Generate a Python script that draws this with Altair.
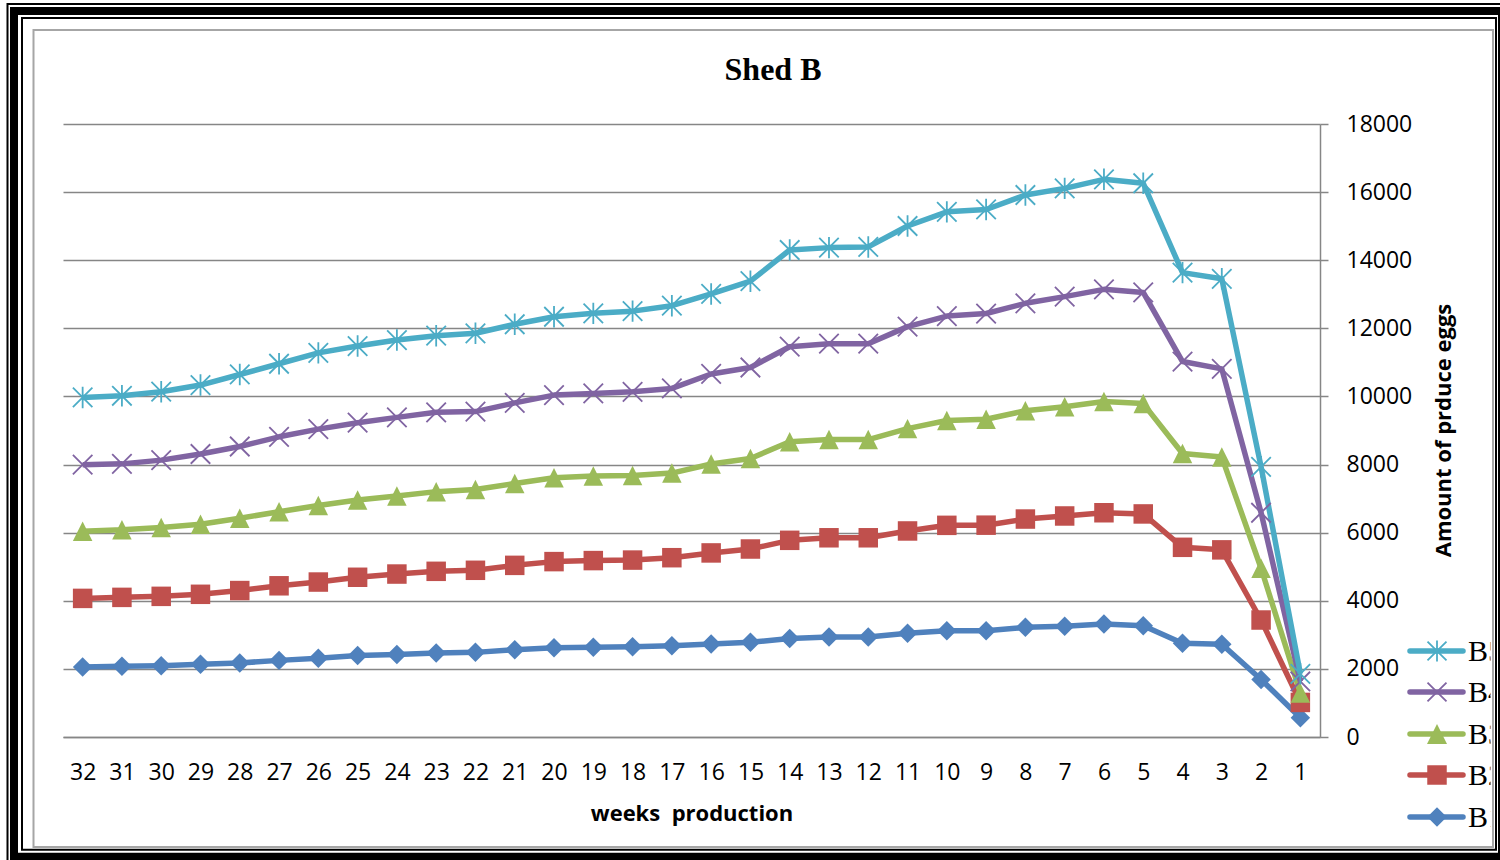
import altair as alt
import pandas as pd

# ---- data: weekly egg production per flock, weeks counted down 32 -> 1 ----
weeks = list(range(32, 0, -1))
series_names = ["B1", "B2", "B3", "B4", "B5"]

b1 = [2055, 2075, 2095, 2135, 2175, 2250, 2310, 2390, 2425, 2465, 2485, 2565,
      2620, 2635, 2650, 2680, 2730, 2780, 2895, 2935, 2935, 3045, 3120, 3120,
      3220, 3250, 3320, 3265, 2755, 2725, 1690, 565]
b2 = [2015, 2025, 2035, 2055, 2125, 2190, 2240, 2300, 2360, 2400, 2410, 2475,
      2530, 2545, 2545, 2585, 2675, 2740, 2880, 2915, 2915, 3005, 3095, 3100,
      3180, 3240, 3265, 3285, 2815, 2770, 1745, 450]
b3 = [1975, 1985, 2025, 2055, 2125, 2175, 2250, 2270, 2290, 2340, 2370, 2405,
      2460, 2485, 2485, 2485, 2610, 2660, 2895, 2885, 2885, 3005, 3080, 3110,
      3180, 3210, 3265, 3240, 2755, 2725, 1520, 280]
b4 = [1950, 1935, 1975, 2065, 2105, 2200, 2240, 2270, 2310, 2330, 2290, 2365,
      2430, 2425, 2455, 2485, 2645, 2670, 2790, 2815, 2815, 2995, 3065, 3105,
      3155, 3230, 3295, 3265, 2700, 2590, 1630, 335]
b5 = [1975, 2000, 2010, 2025, 2115, 2145, 2240, 2250, 2270, 2250, 2300, 2310,
      2300, 2350, 2370, 2430, 2350, 2535, 2840, 2820, 2840, 2955, 3060, 3055,
      3180, 3180, 3230, 3205, 2610, 2645, 1350, 225]

y_ticks = list(range(0, 18001, 2000))

# ---- styling ----
colors = ["#4F81BD", "#C0504D", "#9BBB59", "#8064A2", "#4BACC6"]
X_PATH = "M-1,-1L1,1M-1,1L1,-1"
STAR_PATH = "M-1,-1L1,1M-1,1L1,-1M0,-1.1L0,1.1"
TRI_PATH = "M0,-1L1,1L-1,1Z"
shapes = ["diamond", "square", TRI_PATH, X_PATH, STAR_PATH]
marker_sizes = [380, 380, 400, 360, 360]
filled_flags = [True, True, True, False, False]

LABEL_FONT = "Open Sans"
SERIF = "Liberation Serif"
GRID = "#868686"

rows = []
for order, (name, vals) in enumerate(zip(series_names, [b1, b2, b3, b4, b5])):
    for w, v in zip(weeks, vals):
        rows.append({"week": w, "series": name, "value": v, "order": order})
df = pd.DataFrame(rows)

W, H = 1257, 613  # plot area

color_scale = alt.Scale(domain=series_names, range=colors)
shape_scale = alt.Scale(domain=series_names, range=shapes)
size_scale = alt.Scale(domain=series_names, range=marker_sizes)

base = alt.Chart(df).transform_stack(
    stack="value",
    groupby=["week"],
    as_=["y0", "y1"],
    sort=[alt.SortField("order", order="ascending")],
)

x_enc = alt.X(
    "week:O",
    sort="descending",
    scale=alt.Scale(type="point", padding=0.5),
    axis=alt.Axis(
        title="weeks\u00a0\u00a0production",
        labelAngle=0,
        ticks=False,
        tickSize=0,
        domain=True,
        domainColor=GRID,
        domainWidth=1.5,
        grid=False,
        labelFont=LABEL_FONT,
        labelFontSize=23,
        labelColor="black",
        labelBaseline="middle",
        labelPadding=35,
        titleFont=LABEL_FONT,
        titleFontSize=22,
        titleFontWeight="bold",
        titleColor="black",
        titleBaseline="middle",
        titleY=76,
    ),
)

y_enc = alt.Y(
    "y1:Q",
    scale=alt.Scale(domain=[0, 18000], nice=False),
    axis=alt.Axis(
        orient="right",
        values=y_ticks,
        format="d",
        grid=True,
        gridColor=GRID,
        gridWidth=1.5,
        domainColor=GRID,
        domainWidth=1.5,
        tickColor=GRID,
        tickWidth=1.5,
        tickSize=8,
        labelFont=LABEL_FONT,
        labelFontSize=23,
        labelColor="black",
        labelPadding=18,
        title="Amount of prduce eggs",
        titleFont=LABEL_FONT,
        titleFontSize=22,
        titleFontWeight="bold",
        titleColor="black",
        titleAngle=270,
        titleAlign="center",
        titleBaseline="middle",
        titleX=123,
        titleY=306,
    ),
)

lines = base.mark_line(strokeWidth=5.5, strokeJoin="round").encode(
    x=x_enc,
    y=y_enc,
    color=alt.Color("series:N", scale=color_scale, legend=None),
    detail="series:N",
)

solid_pts = base.transform_filter(
    alt.FieldOneOfPredicate(field="series", oneOf=["B1", "B2", "B3"])
).mark_point(filled=True, opacity=1).encode(
    x=x_enc,
    y=y_enc,
    color=alt.Color("series:N", scale=color_scale, legend=None),
    shape=alt.Shape("series:N", scale=shape_scale, legend=None),
    size=alt.Size("series:N", scale=size_scale, legend=None),
)

open_pts = base.transform_filter(
    alt.FieldOneOfPredicate(field="series", oneOf=["B4", "B5"])
).mark_point(filled=False, opacity=1, strokeWidth=1.8).encode(
    x=x_enc,
    y=y_enc,
    color=alt.Color("series:N", scale=color_scale, legend=None),
    shape=alt.Shape("series:N", scale=shape_scale, legend=None),
    size=alt.Size("series:N", scale=size_scale, legend=None),
)

one = pd.DataFrame({"k": [0]})

# chart title
title = alt.Chart(one).mark_text(
    font=SERIF, fontSize=32, fontWeight="bold", color="black",
    align="center", baseline="middle",
).encode(x=alt.value(710), y=alt.value(-54), text=alt.value("Shed B"))

# legend (top entry is the last series)
legend_layers = []
legend_rows_y = [693, 651, 610, 568, 527]  # B1..B5
for i, name in enumerate(series_names):
    ly = legend_rows_y[i]
    legend_layers.append(
        alt.Chart(one).mark_rule(color=colors[i], strokeWidth=5.5, strokeCap="round").encode(
            x=alt.value(1347), x2=alt.value(1400), y=alt.value(ly)
        )
    )
    legend_layers.append(
        alt.Chart(one).mark_point(
            shape=shapes[i], size=marker_sizes[i], filled=filled_flags[i],
            color=colors[i], opacity=1, strokeWidth=1.8,
        ).encode(x=alt.value(1374), y=alt.value(ly))
    )
    legend_layers.append(
        alt.Chart(one).mark_text(
            font=SERIF, fontSize=30, color="black", align="left", baseline="middle",
        ).encode(x=alt.value(1405), y=alt.value(ly + 1), text=alt.value(name))
    )

# chart area edge trims the legend text
cover = alt.Chart(one).mark_rect(color="white").encode(
    x=alt.value(1427.5), x2=alt.value(1447), y=alt.value(490), y2=alt.value(724)
)


def frame(x1, y1, x2, y2, color, width):
    return alt.Chart(one).mark_rect(
        fillOpacity=0, stroke=color, strokeWidth=width
    ).encode(x=alt.value(x1), x2=alt.value(x2), y=alt.value(y1), y2=alt.value(y2))


frames = [
    frame(-29.5, -94, 1430, 723, "#a6a6a6", 2),      # chart area border
    frame(-55.5, -120, 1447, 746, "black", 2),       # outer thin line
    frame(-49, -113, 1439, 732.7, "black", 8),       # thick band
    frame(-41, -106, 1433, 725.8, "black", 2),       # inner thin line
]

chart = alt.layer(
    lines, solid_pts, open_pts, title, *legend_layers, cover, *frames
).properties(
    width=W,
    height=H,
    autosize=alt.AutoSizeParams(type="none"),
    padding={"left": 63, "top": 124, "right": 180, "bottom": 123},
    background="white",
).configure_view(stroke=None)

chart.save("out.html", embed_options={"renderer": "svg", "actions": False})
